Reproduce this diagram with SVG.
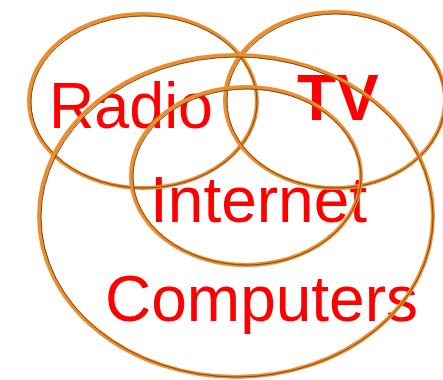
<svg xmlns="http://www.w3.org/2000/svg" width="443" height="380" viewBox="0 0 443 380">
<style>
.lbl{font-family:"Liberation Sans",Arial,sans-serif;font-size:64px;fill:#ff0000}
.ring{fill:none;stroke:#ea8e30;stroke-width:4}
.shade{fill:none;stroke:#7f4818;stroke-width:1}
</style>
<rect width="443" height="380" fill="#ffffff"/>
<g id="labels">
<text class="lbl" x="49" y="128" textLength="164" lengthAdjust="spacingAndGlyphs">Radio</text>
<text class="lbl" x="297" y="120" font-weight="bold">TV</text>
<text class="lbl" x="150" y="222">Internet</text>
<text class="lbl" x="105" y="321">Computers</text>
</g>
<g id="radio">
<ellipse class="ring" cx="143" cy="101" rx="114" ry="87"/>
<ellipse class="shade" cx="144" cy="102" rx="113" ry="86"/>
</g>
<g id="tv">
<ellipse class="ring" cx="335" cy="100" rx="110" ry="88"/>
<ellipse class="shade" cx="336" cy="101" rx="109" ry="87"/>
</g>
<g id="computers">
<ellipse class="ring" cx="236" cy="216" rx="197" ry="161"/>
<ellipse class="shade" cx="237" cy="217" rx="196" ry="160"/>
</g>
<g id="internet">
<ellipse class="ring" cx="246" cy="176" rx="115" ry="89"/>
<ellipse class="shade" cx="247" cy="177" rx="114" ry="88"/>
</g>
</svg>
